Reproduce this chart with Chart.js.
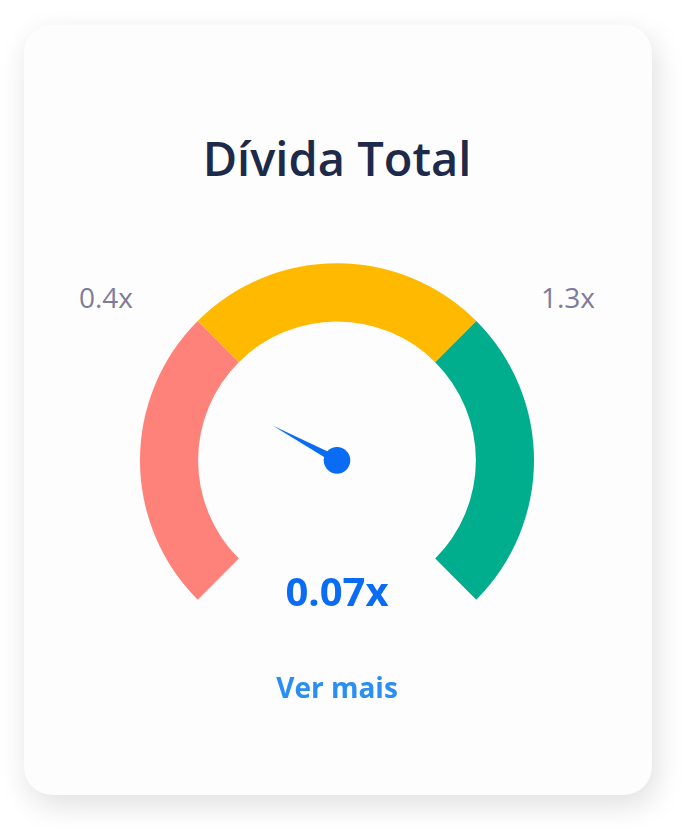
<!DOCTYPE html>
<html>
<head>
<meta charset="utf-8">
<script src="https://cdn.jsdelivr.net/npm/chart.js@4"></script>
<style>
  html, body { margin: 0; padding: 0; background: #ffffff; }
  body { width: 687px; height: 834px; position: relative; overflow: hidden; font-family: "Open Sans", sans-serif; }
  .card {
    position: absolute; left: 24px; top: 25px; width: 628px; height: 770px;
    background: #fdfdfd; border-radius: 28px;
    box-shadow: 4px 10px 30px rgba(0, 0, 0, 0.13);
  }
  .txt { position: absolute; white-space: nowrap; line-height: 1; transform: translateX(-50%); }
  #title { left: 337px; top: 135px; font-size: 47px; font-weight: 600; color: #1d2a4a; }
  #minLabel, #maxLabel { top: 283px; font-size: 28px; font-weight: 400; color: #7f7c9b; }
  #minLabel { left: 106px; }
  #maxLabel { left: 568px; }
  #value { left: 337px; top: 571px; font-size: 40px; font-weight: 700; color: #0a6cf4; }
  #more { left: 337px; top: 673px; font-size: 28px; font-weight: 700; color: #2b8ef2; }
  .gauge { position: absolute; left: 140px; top: 263px; width: 394px; height: 337px; }
</style>
</head>
<body>
<div class="card"></div>
<div class="txt" id="title"></div>
<div class="txt" id="minLabel"></div>
<div class="txt" id="maxLabel"></div>
<div class="gauge"><canvas id="gaugeChart"></canvas></div>
<div class="txt" id="value"></div>
<div class="txt" id="more">Ver mais</div>

<script>
// Gauge data
const chartTitle = 'Dívida Total';
const segmentLabels = ['Baixo', 'Médio', 'Alto'];
const segmentValues = [1, 1, 1];
const segmentColors = ['#ff827a', '#ffba00', '#00ad8d'];
const rangeLabels = ['0.4x', '1.3x'];
const currentValue = 0.07;
// needle position as a fraction of the gauge sweep
const needlePosition = 0.272;

document.getElementById('title').textContent = chartTitle;
document.getElementById('minLabel').textContent = rangeLabels[0];
document.getElementById('maxLabel').textContent = rangeLabels[1];
document.getElementById('value').textContent = currentValue.toFixed(2) + 'x';

// Needle drawn on top of the doughnut
const needlePlugin = {
  id: 'needle',
  afterDatasetsDraw(chart) {
    const meta = chart.getDatasetMeta(0);
    const arc = meta.data[0];
    if (!arc) return;
    const cx = arc.x;
    const cy = arc.y;
    const opts = chart.options;
    const startRad = (opts.rotation - 90) * Math.PI / 180;
    const sweep = opts.circumference * Math.PI / 180;
    const angle = startRad + sweep * needlePosition;
    const len = arc.innerRadius * 0.524;
    const half = 4;

    const ctx = chart.ctx;
    ctx.save();
    ctx.fillStyle = '#0a6cf4';
    ctx.beginPath();
    ctx.moveTo(cx + Math.cos(angle) * len, cy + Math.sin(angle) * len);
    ctx.lineTo(cx + Math.cos(angle + Math.PI / 2) * half, cy + Math.sin(angle + Math.PI / 2) * half);
    ctx.lineTo(cx + Math.cos(angle - Math.PI / 2) * half, cy + Math.sin(angle - Math.PI / 2) * half);
    ctx.closePath();
    ctx.fill();
    ctx.beginPath();
    ctx.arc(cx, cy, 13.3, 0, Math.PI * 2);
    ctx.fill();
    ctx.restore();
  }
};

new Chart(document.getElementById('gaugeChart'), {
  type: 'doughnut',
  data: {
    labels: segmentLabels,
    datasets: [{
      data: segmentValues,
      backgroundColor: segmentColors,
      borderWidth: 0
    }]
  },
  options: {
    responsive: true,
    maintainAspectRatio: false,
    animation: false,
    rotation: -135,
    circumference: 270,
    cutout: '70.5%',
    layout: { padding: 0 },
    plugins: {
      legend: { display: false },
      tooltip: { enabled: false }
    }
  },
  plugins: [needlePlugin]
});
</script>
</body>
</html>
